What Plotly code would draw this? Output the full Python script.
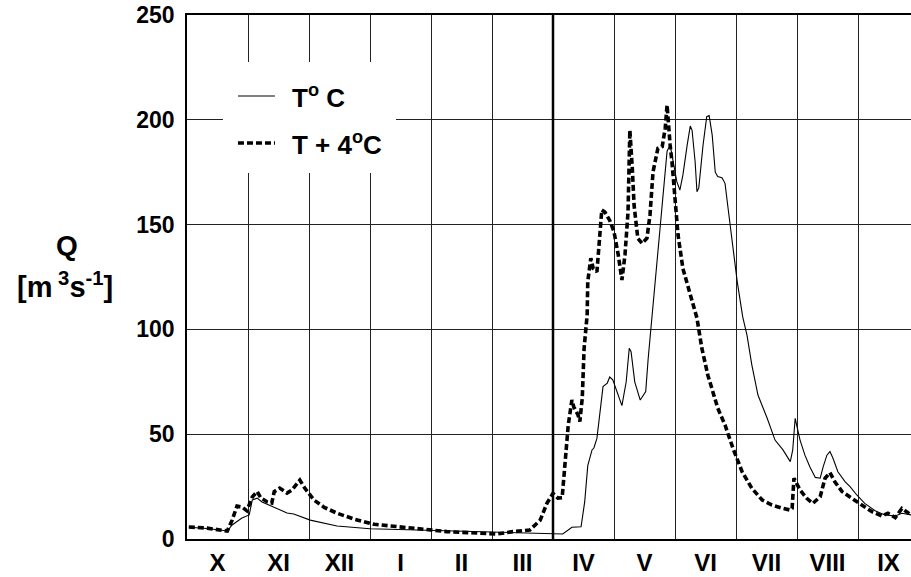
import plotly.graph_objects as go

# x = position in hydrological year, in months from 1 October
month_labels = ["X", "XI", "XII", "I", "II", "III", "IV", "V", "VI", "VII", "VIII", "IX"]
month_centres = [i + 0.5 for i in range(12)]
month_bounds = list(range(1, 12))
y_ticks = [0, 50, 100, 150, 200, 250]

t_x = [0.03, 0.33, 0.66, 0.74, 0.90, 1.02, 1.07, 1.15, 1.23, 1.39, 1.64, 1.75, 2.02, 2.46,
       3.00, 3.93, 4.97, 6.00, 6.16, 6.31, 6.46, 6.52, 6.57, 6.64, 6.67, 6.72, 6.77, 6.82,
       6.89, 6.93, 6.98, 7.07, 7.13, 7.20, 7.25, 7.28, 7.34, 7.43, 7.49, 7.52, 7.56, 7.62,
       7.70, 7.75, 7.79, 7.87, 7.92, 7.97, 8.03, 8.08, 8.13, 8.20, 8.25, 8.28, 8.33, 8.36,
       8.39, 8.46, 8.52, 8.56, 8.61, 8.66, 8.70, 8.77, 8.82, 8.87, 8.93, 9.02, 9.11, 9.18,
       9.26, 9.36, 9.51, 9.64, 9.77, 9.89, 9.93, 9.97, 10.00, 10.05, 10.13, 10.21, 10.30,
       10.38, 10.43, 10.49, 10.54, 10.59, 10.67, 10.79, 10.87, 10.98, 11.11, 11.28, 11.44,
       11.61, 11.72, 11.87]
t_q = [5.6, 5.0, 3.8, 6.7, 10.0, 11.5, 18.6, 19.5, 17.7, 15.7, 12.4, 11.9, 9.0, 6.2,
       4.9, 4.2, 3.2, 2.4, 2.4, 5.6, 5.8, 17.8, 35.0, 42.5, 43.4, 48.0, 59.0, 72.7,
       74.4, 77.3, 75.9, 68.7, 63.6, 75.0, 91.0, 89.4, 75.0, 66.3, 69.0, 70.3, 86.0, 105.0,
       129.0, 145.0, 161.0, 185.0, 188.0, 180.0, 170.5, 166.5, 173.7, 188.0, 197.0, 195.0, 180.0, 165.7,
       167.5, 188.0, 201.5, 202.0, 192.7, 175.0, 172.9, 172.4, 169.7, 157.8, 143.5, 122.8, 106.0, 97.3,
       83.0, 68.7, 57.7, 47.2, 42.5, 36.9, 42.5, 57.6, 53.6, 47.2, 40.0, 34.5, 29.4,
       29.0, 34.5, 40.0, 41.7, 38.5, 32.1, 27.3, 25.0, 21.0, 17.0, 13.5, 11.5,
       11.0, 12.3, 11.5]

t4_x = [0.03, 0.33, 0.66, 0.74, 0.82, 0.90, 0.98, 1.07, 1.15, 1.21, 1.31, 1.39, 1.43, 1.52,
        1.64, 1.72, 1.85, 1.93, 2.08, 2.25, 2.46, 2.74, 3.07, 3.49, 3.90, 4.26, 5.08, 5.34,
        5.62, 5.79, 5.90, 6.00, 6.08, 6.15, 6.20, 6.25, 6.31, 6.34, 6.41, 6.44, 6.48, 6.51,
        6.56, 6.57, 6.62, 6.66, 6.72, 6.75, 6.80, 6.85, 6.93, 7.00, 7.07, 7.13, 7.18, 7.23,
        7.26, 7.30, 7.33, 7.39, 7.46, 7.54, 7.59, 7.64, 7.72, 7.79, 7.84, 7.87, 7.89, 7.92,
        7.95, 8.00, 8.05, 8.13, 8.25, 8.36, 8.44, 8.54, 8.62, 8.70, 8.82, 8.95, 9.10, 9.26,
        9.43, 9.59, 9.77, 9.89, 9.92, 9.95, 10.05, 10.16, 10.26, 10.38, 10.46, 10.54, 10.62,
        10.74, 10.90, 11.07, 11.23, 11.39, 11.49, 11.61, 11.72, 11.87]
t4_q = [5.7, 5.2, 3.8, 9.0, 15.7, 15.3, 13.5, 20.0, 22.6, 19.6, 17.8, 17.2, 22.6, 24.3,
        21.9, 23.4, 28.1, 24.3, 18.6, 15.1, 12.3, 9.5, 7.0, 5.6, 4.6, 3.5, 2.4, 3.5,
        4.3, 9.0, 17.0, 21.8, 19.5, 19.7, 38.5, 54.4, 66.3, 63.1, 59.2, 56.0, 67.3, 91.0,
        107.0, 122.8, 134.0, 129.0, 127.5, 137.0, 157.0, 156.0, 152.0, 146.6, 135.5, 123.6, 135.5, 156.0,
        195.0, 176.9, 159.0, 143.5, 141.0, 143.5, 154.6, 175.2, 186.4, 187.2, 196.0, 207.0, 197.5, 188.0,
        180.0, 164.0, 145.0, 129.0, 116.4, 105.4, 91.0, 78.0, 70.3, 62.5, 54.4, 43.3, 32.1, 24.2,
        18.6, 16.2, 14.6, 13.8, 14.6, 29.0, 23.4, 19.4, 17.0, 20.2, 29.0, 31.7, 27.3,
        22.6, 19.4, 16.2, 13.0, 11.0, 12.3, 10.2, 14.6, 11.5]

FONT = "Liberation Sans, Arial, sans-serif"
GRID = "#222222"

fig = go.Figure()
fig.add_trace(go.Scatter(x=t_x, y=t_q, mode="lines", name="T° C",
                         line=dict(color="black", width=1.1)))
fig.add_trace(go.Scatter(x=t4_x, y=t4_q, mode="lines", name="T + 4°C",
                         line=dict(color="black", width=3.6, dash="6px,3px")))

# thick line at start of April
fig.add_shape(type="line", xref="x", yref="paper", x0=6, x1=6, y0=0, y1=1,
              line=dict(color="black", width=2.5), layer="above")

# legend box (white, hides grid)
fig.add_shape(type="rect", xref="paper", yref="paper", x0=0.0497, x1=0.2887,
              y0=0.6985, y1=0.9103, fillcolor="white", line=dict(width=0), layer="above")
fig.add_shape(type="line", xref="paper", yref="paper", x0=0.0704, x1=0.1215,
              y0=0.8454, y1=0.8454, line=dict(color="black", width=1.1), layer="above")
fig.add_shape(type="line", xref="paper", yref="paper", x0=0.0704, x1=0.1215,
              y0=0.7557, y1=0.7557, line=dict(color="black", width=3.6, dash="6px,3px"),
              layer="above")
fig.add_annotation(xref="paper", yref="paper", x=0.1423, y=0.8454, xanchor="left",
                   yanchor="middle", text="<b>T<sup>o</sup> C</b>", showarrow=False,
                   font=dict(family=FONT, size=26, color="black"))
fig.add_annotation(xref="paper", yref="paper", x=0.1423, y=0.7557, xanchor="left",
                   yanchor="middle", text="<b>T + 4<sup>o</sup>C</b>", showarrow=False,
                   font=dict(family=FONT, size=26, color="black"))

# y-axis title
fig.add_annotation(xref="paper", yref="paper", x=-0.1657, y=0.561, xanchor="center",
                   yanchor="middle", text="<b>Q</b>", showarrow=False,
                   font=dict(family=FONT, size=28, color="black"))
fig.add_annotation(xref="paper", yref="paper", x=-0.1685, y=0.485, xanchor="center",
                   yanchor="middle", text="<b>[m<sup> 3</sup>s<sup>-1</sup>]</b>",
                   showarrow=False, font=dict(family=FONT, size=29, color="black"))

fig.update_layout(
    width=911, height=577,
    margin=dict(l=187, r=0, t=15, b=38, autoexpand=False),
    paper_bgcolor="white", plot_bgcolor="white",
    showlegend=False,
    font=dict(family=FONT, color="black"),
)
fig.update_xaxes(
    range=[0, 724 / 61], tickvals=month_centres, ticktext=[f"<b>{m}</b>" for m in month_labels],
    showgrid=False, ticks="", showline=True, linecolor="black", linewidth=1.5, mirror=True,
    tickfont=dict(family=FONT, size=24, color="black"), ticklabelstandoff=1,
    minor=dict(tickvals=month_bounds, showgrid=True, gridcolor=GRID, gridwidth=1, ticks=""),
    zeroline=False, automargin=False,
)
fig.update_yaxes(
    range=[0, 250], tickvals=y_ticks, ticktext=[f"<b>{v}</b>" for v in y_ticks],
    showgrid=True, gridcolor=GRID, gridwidth=1, ticks="", showline=True, linecolor="black",
    linewidth=1.5, tickfont=dict(family=FONT, size=23, color="black"), ticklabelstandoff=6,
    zeroline=False, automargin=False,
)

fig.write_html("out.html", post_script="document.body.style.margin='0';",
               config={"displayModeBar": False})
